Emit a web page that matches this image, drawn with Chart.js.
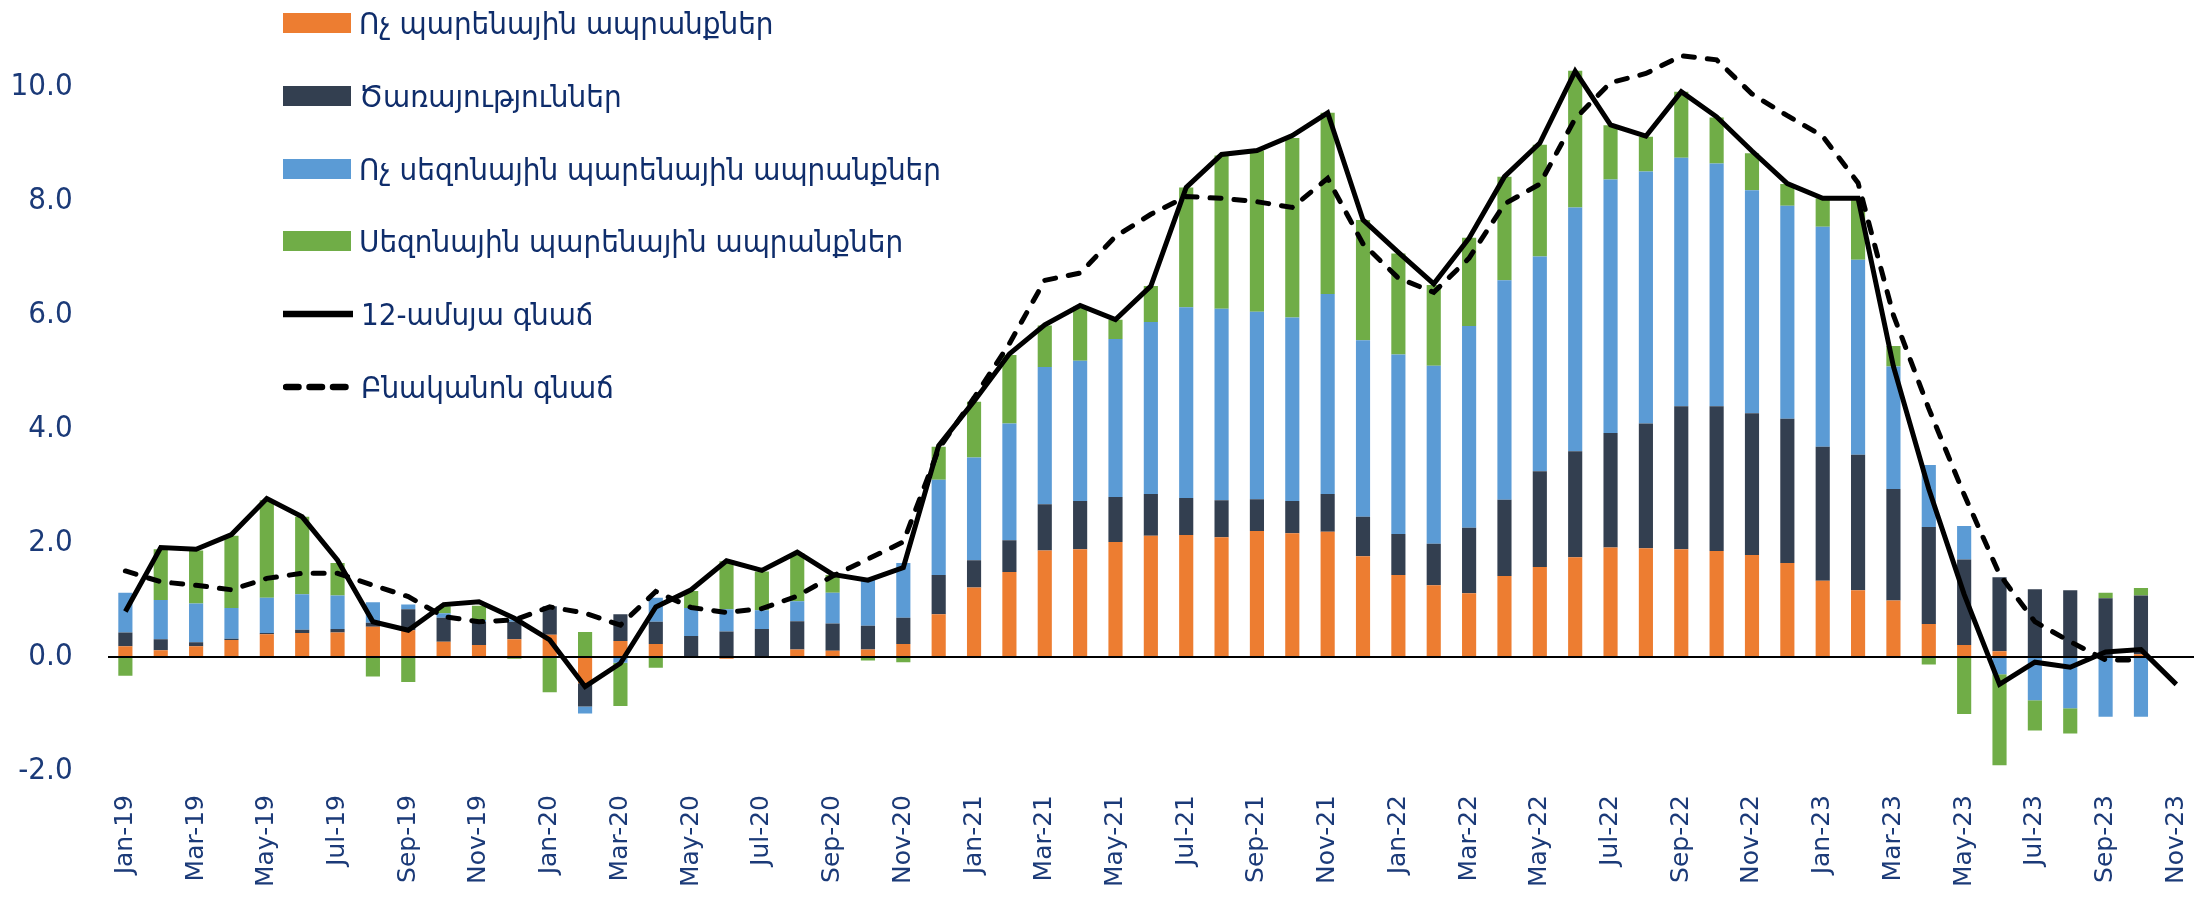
<!DOCTYPE html>
<html><head><meta charset="utf-8">
<script src="https://cdn.jsdelivr.net/npm/chart.js@4.4.1/dist/chart.umd.min.js"></script>
<style>
html,body{margin:0;padding:0;background:#fff;}
#wrap{position:relative;width:2210px;height:898px;overflow:hidden;}
#legend{position:absolute;left:0;top:0;}
.li{position:absolute;left:283px;height:40px;display:flex;align-items:center;white-space:nowrap;}
.mk{flex:none;margin-right:8px;}
.tx{font:31px 'DejaVu Sans Condensed','DejaVu Sans',sans-serif;color:#0f2d6b;line-height:40px;}
</style></head>
<body><div id="wrap"><canvas id="c" width="2210" height="898"></canvas><div id="legend"></div></div>
<script>
const months = ['Jan-19','Feb-19','Mar-19','Apr-19','May-19','Jun-19','Jul-19','Aug-19','Sep-19','Oct-19','Nov-19','Dec-19',
'Jan-20','Feb-20','Mar-20','Apr-20','May-20','Jun-20','Jul-20','Aug-20','Sep-20','Oct-20','Nov-20','Dec-20',
'Jan-21','Feb-21','Mar-21','Apr-21','May-21','Jun-21','Jul-21','Aug-21','Sep-21','Oct-21','Nov-21','Dec-21',
'Jan-22','Feb-22','Mar-22','Apr-22','May-22','Jun-22','Jul-22','Aug-22','Sep-22','Oct-22','Nov-22','Dec-22',
'Jan-23','Feb-23','Mar-23','Apr-23','May-23','Jun-23','Jul-23','Aug-23','Sep-23','Oct-23','Nov-23'];

const seriesNames = ['Ոչ պարենային ապրանքներ','Ծառայություններ','Ոչ սեզոնային պարենային ապրանքներ','Սեզոնային պարենային ապրանքներ','12-ամսյա գնաճ','Բնականոն գնաճ'];

const nonFoodGoods = [0.19,0.12,0.19,0.30,0.40,0.42,0.43,0.53,0.47,0.27,0.21,0.31,
0.39,-0.46,0.28,0.23,0.00,-0.03,0.00,0.13,0.11,0.13,0.23,0.75,
1.22,1.49,1.87,1.89,2.02,2.13,2.14,2.10,2.21,2.17,2.20,1.77,
1.44,1.26,1.12,1.42,1.58,1.75,1.92,1.91,1.89,1.86,1.79,1.65,
1.34,1.17,0.99,0.58,0.21,0.10,0.00,0.00,0.00,0.05,null];

const services = [0.24,0.19,0.07,0.02,0.02,0.06,0.06,0.07,0.37,0.42,0.41,0.31,
0.50,-0.41,0.47,0.39,0.37,0.45,0.49,0.50,0.48,0.42,0.46,0.69,
0.48,0.56,0.81,0.85,0.79,0.73,0.65,0.65,0.56,0.57,0.66,0.69,
0.72,0.73,1.15,1.34,1.68,1.86,2.01,2.19,2.51,2.54,2.49,2.53,
2.35,2.38,1.96,1.70,1.50,1.30,1.19,1.17,1.03,1.03,null];

const nonSeasonalFood = [0.70,0.69,0.68,0.54,0.62,0.62,0.59,0.36,0.08,0.08,0.03,0.04,
0.00,-0.12,-0.10,0.42,0.49,0.39,0.33,0.35,0.54,0.80,0.96,1.67,
1.80,2.05,2.41,2.46,2.77,3.02,3.35,3.36,3.29,3.22,3.51,3.10,
3.15,3.12,3.54,3.85,3.77,4.28,4.45,4.42,4.36,4.26,3.91,3.74,
3.86,3.42,2.15,1.09,0.59,-0.30,-0.76,-0.90,-1.05,-1.05,null];

const seasonalFood = [-0.33,0.89,0.93,1.27,1.71,1.36,0.57,-0.34,-0.44,0.12,0.25,-0.03,
-0.62,0.44,-0.76,-0.19,0.30,0.84,0.68,0.84,0.31,-0.06,-0.09,0.58,
0.98,1.20,0.73,0.95,0.34,0.63,2.10,2.69,2.83,3.15,3.18,2.11,
1.77,1.42,1.55,1.82,1.96,2.40,0.95,0.61,1.16,0.81,0.65,0.38,
0.50,1.08,0.36,-0.13,-1.00,-1.60,-0.53,-0.44,0.10,0.13,null];

const headline = [0.80,1.92,1.89,2.15,2.78,2.46,1.70,0.62,0.47,0.92,0.97,0.68,
0.30,-0.52,-0.11,0.88,1.18,1.69,1.52,1.84,1.45,1.35,1.57,3.71,
4.49,5.32,5.83,6.17,5.92,6.51,8.24,8.82,8.89,9.15,9.55,7.67,
7.10,6.55,7.35,8.43,9.02,10.28,9.34,9.14,9.92,9.48,8.88,8.31,
8.05,8.05,5.10,2.95,1.10,-0.48,-0.09,-0.18,0.09,0.13,-0.48];

const core = [1.51,1.32,1.26,1.18,1.38,1.47,1.47,1.26,1.06,0.71,0.62,0.65,
0.88,0.77,0.56,1.15,0.87,0.78,0.85,1.07,1.42,1.72,2.02,3.65,
4.55,5.50,6.61,6.74,7.38,7.77,8.08,8.05,7.99,7.89,8.40,7.25,
6.65,6.40,7.00,7.95,8.30,9.45,10.08,10.24,10.55,10.48,9.88,9.50,
9.14,8.32,6.00,4.36,2.85,1.45,0.62,0.27,-0.05,-0.05,null];

const yTicks = [-2,0,2,4,6,8,10];

const colors = ['#ED7D31','#333F50','#5B9BD5','#70AD47','#000000','#000000'];
const textColor = '#1b3a78';

function barSet(i, data){
  return {type:'bar', label:seriesNames[i], data:data, backgroundColor:colors[i], borderWidth:0,
    stack:'s', order:2, barPercentage:0.4, categoryPercentage:1.0};
}

const datasets = [
  barSet(0, nonFoodGoods),
  barSet(1, services),
  barSet(2, nonSeasonalFood),
  barSet(3, seasonalFood),
  {type:'line', label:seriesNames[4], data:headline, borderColor:'#000', borderWidth:5, stack:'line1',
   pointRadius:0, tension:0, fill:false, order:0, borderJoinStyle:'miter'},
  {type:'line', label:seriesNames[5], data:core, borderColor:'#000', borderWidth:5, stack:'line2',
   borderDash:[11,13], borderCapStyle:'round', pointRadius:0, tension:0, fill:false, order:1, spanGaps:false}
];

const htmlLegend = {
  id:'htmlLegend',
  afterUpdate(chart){
    const box = document.getElementById('legend');
    box.innerHTML = '';
    chart.data.datasets.forEach((ds, i) => {
      const row = document.createElement('div');
      row.className = 'li';
      row.style.top = (23 + 72.8*i - 20) + 'px';
      let mk;
      if (ds.type === 'bar') {
        mk = document.createElement('div');
        mk.className = 'mk';
        mk.style.width = '68px';
        mk.style.height = '20px';
        mk.style.background = ds.backgroundColor;
      } else {
        mk = document.createElementNS('http://www.w3.org/2000/svg','svg');
        mk.setAttribute('class','mk');
        mk.setAttribute('width','70');
        mk.setAttribute('height','20');
        const ln = document.createElementNS('http://www.w3.org/2000/svg','line');
        ln.setAttribute('x1', ds.borderDash ? '3' : '0');
        ln.setAttribute('x2', ds.borderDash ? '66' : '70');
        ln.setAttribute('y1','10'); ln.setAttribute('y2','10');
        ln.setAttribute('stroke', ds.borderColor);
        ln.setAttribute('stroke-width','6.5');
        if (ds.borderDash) { ln.setAttribute('stroke-dasharray','12.5 11'); ln.setAttribute('stroke-linecap','round'); }
        else { ln.setAttribute('stroke-linecap','round'); }
        mk.appendChild(ln);
      }
      const tx = document.createElement('span');
      tx.className = 'tx';
      tx.textContent = ds.label;
      row.appendChild(mk); row.appendChild(tx);
      box.appendChild(row);
    });
  }
};

new Chart(document.getElementById('c'), {
  data:{labels:months, datasets:datasets},
  plugins:[htmlLegend],
  options:{
    responsive:false, animation:false, devicePixelRatio:1,
    layout:{padding:{left:0,right:16,top:0,bottom:0}},
    plugins:{legend:{display:false}, tooltip:{enabled:false}},
    scales:{
      x:{
        type:'category', offset:true, stacked:true,
        grid:{display:false, drawTicks:false}, border:{display:false},
        ticks:{autoSkip:false, minRotation:90, maxRotation:90, padding:24, color:textColor,
          font:{family:"'DejaVu Sans'", size:25},
          callback:function(v, i){ return i % 2 === 0 ? months[i] : ''; }},
        afterFit:function(s){ s.height = 127; s.paddingLeft = 0; s.paddingRight = 0; }
      },
      y:{
        stacked:true, min:-2, max:11.53,
        afterBuildTicks:function(s){ s.ticks = yTicks.map(v => ({value:v})); },
        grid:{drawTicks:false, lineWidth:2,
          color:function(ctx){ return ctx.tick && ctx.tick.value === 0 ? '#000' : 'rgba(0,0,0,0)'; }},
        border:{display:false},
        ticks:{padding:35, color:textColor, font:{family:"'DejaVu Sans Condensed'", size:31},
          callback:function(v){ return Number(v).toFixed(1); }},
        afterFit:function(s){ s.width = 107.7; s.paddingTop = 0; s.paddingBottom = 0; }
      }
    }
  }
});
</script></body></html>
